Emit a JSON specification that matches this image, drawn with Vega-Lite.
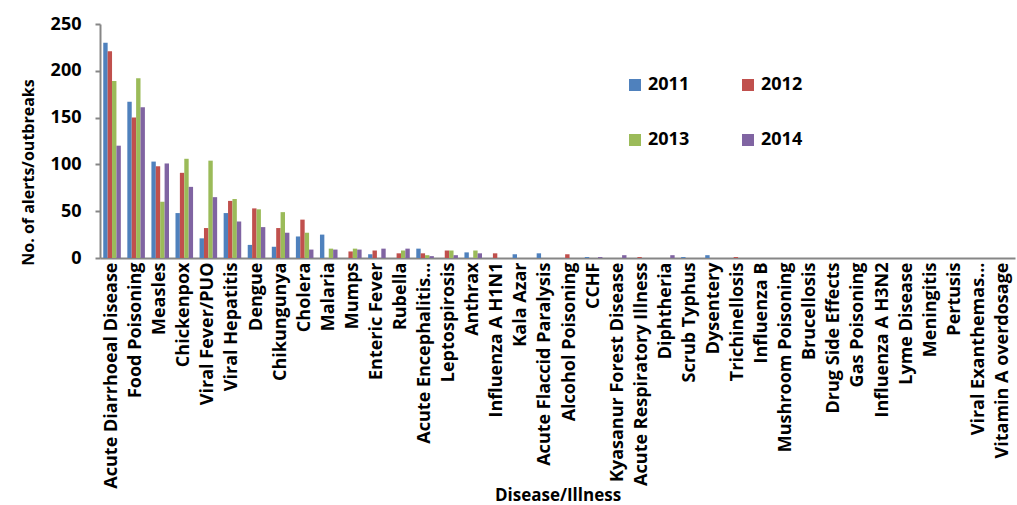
{
  "$schema": "https://vega.github.io/schema/vega-lite/v6.json",
  "width": 915,
  "height": 234,
  "autosize": {"type": "none"},
  "padding": {"left": 100, "top": 24, "right": 2, "bottom": 247},
  "background": "white",
  "config": {
    "view": {"stroke": null},
    "font": "Open Sans"
  },
  "data": {
    "values": [
      {"disease": "Acute Diarrhoeal Disease", "year": "2011", "value": 230},
      {"disease": "Acute Diarrhoeal Disease", "year": "2012", "value": 221},
      {"disease": "Acute Diarrhoeal Disease", "year": "2013", "value": 189},
      {"disease": "Acute Diarrhoeal Disease", "year": "2014", "value": 120},
      {"disease": "Food Poisoning", "year": "2011", "value": 167},
      {"disease": "Food Poisoning", "year": "2012", "value": 150},
      {"disease": "Food Poisoning", "year": "2013", "value": 192},
      {"disease": "Food Poisoning", "year": "2014", "value": 161},
      {"disease": "Measles", "year": "2011", "value": 103},
      {"disease": "Measles", "year": "2012", "value": 98},
      {"disease": "Measles", "year": "2013", "value": 60},
      {"disease": "Measles", "year": "2014", "value": 101},
      {"disease": "Chickenpox", "year": "2011", "value": 48},
      {"disease": "Chickenpox", "year": "2012", "value": 91},
      {"disease": "Chickenpox", "year": "2013", "value": 106},
      {"disease": "Chickenpox", "year": "2014", "value": 76},
      {"disease": "Viral Fever/PUO", "year": "2011", "value": 21},
      {"disease": "Viral Fever/PUO", "year": "2012", "value": 32},
      {"disease": "Viral Fever/PUO", "year": "2013", "value": 104},
      {"disease": "Viral Fever/PUO", "year": "2014", "value": 65},
      {"disease": "Viral Hepatitis", "year": "2011", "value": 48},
      {"disease": "Viral Hepatitis", "year": "2012", "value": 61},
      {"disease": "Viral Hepatitis", "year": "2013", "value": 63},
      {"disease": "Viral Hepatitis", "year": "2014", "value": 39},
      {"disease": "Dengue", "year": "2011", "value": 14},
      {"disease": "Dengue", "year": "2012", "value": 53},
      {"disease": "Dengue", "year": "2013", "value": 52},
      {"disease": "Dengue", "year": "2014", "value": 33},
      {"disease": "Chikungunya", "year": "2011", "value": 12},
      {"disease": "Chikungunya", "year": "2012", "value": 32},
      {"disease": "Chikungunya", "year": "2013", "value": 49},
      {"disease": "Chikungunya", "year": "2014", "value": 27},
      {"disease": "Cholera", "year": "2011", "value": 23},
      {"disease": "Cholera", "year": "2012", "value": 41},
      {"disease": "Cholera", "year": "2013", "value": 27},
      {"disease": "Cholera", "year": "2014", "value": 9},
      {"disease": "Malaria", "year": "2011", "value": 25},
      {"disease": "Malaria", "year": "2012", "value": 0},
      {"disease": "Malaria", "year": "2013", "value": 10},
      {"disease": "Malaria", "year": "2014", "value": 9},
      {"disease": "Mumps", "year": "2011", "value": 0},
      {"disease": "Mumps", "year": "2012", "value": 7},
      {"disease": "Mumps", "year": "2013", "value": 10},
      {"disease": "Mumps", "year": "2014", "value": 9},
      {"disease": "Enteric Fever", "year": "2011", "value": 4},
      {"disease": "Enteric Fever", "year": "2012", "value": 8},
      {"disease": "Enteric Fever", "year": "2013", "value": 0},
      {"disease": "Enteric Fever", "year": "2014", "value": 10},
      {"disease": "Rubella", "year": "2011", "value": 0},
      {"disease": "Rubella", "year": "2012", "value": 5},
      {"disease": "Rubella", "year": "2013", "value": 8},
      {"disease": "Rubella", "year": "2014", "value": 10},
      {"disease": "Acute Encephalitis...", "year": "2011", "value": 10},
      {"disease": "Acute Encephalitis...", "year": "2012", "value": 5},
      {"disease": "Acute Encephalitis...", "year": "2013", "value": 3},
      {"disease": "Acute Encephalitis...", "year": "2014", "value": 2},
      {"disease": "Leptospirosis", "year": "2011", "value": 0},
      {"disease": "Leptospirosis", "year": "2012", "value": 8},
      {"disease": "Leptospirosis", "year": "2013", "value": 8},
      {"disease": "Leptospirosis", "year": "2014", "value": 3},
      {"disease": "Anthrax", "year": "2011", "value": 6},
      {"disease": "Anthrax", "year": "2012", "value": 0},
      {"disease": "Anthrax", "year": "2013", "value": 8},
      {"disease": "Anthrax", "year": "2014", "value": 5},
      {"disease": "Influenza A H1N1", "year": "2012", "value": 5},
      {"disease": "Kala Azar", "year": "2011", "value": 4},
      {"disease": "Acute Flaccid Paralysis", "year": "2011", "value": 5},
      {"disease": "Alcohol Poisoning", "year": "2012", "value": 4},
      {"disease": "CCHF", "year": "2011", "value": 1},
      {"disease": "CCHF", "year": "2014", "value": 1},
      {"disease": "Kyasanur Forest Disease", "year": "2014", "value": 3},
      {"disease": "Acute Respiratory Illness", "year": "2012", "value": 1},
      {"disease": "Diphtheria", "year": "2014", "value": 3},
      {"disease": "Scrub Typhus", "year": "2011", "value": 1},
      {"disease": "Dysentery", "year": "2011", "value": 3},
      {"disease": "Trichinellosis", "year": "2012", "value": 1}
    ]
  },
  "mark": {"type": "bar"},
  "encoding": {
    "x": {
      "field": "disease",
      "type": "nominal",
      "sort": null,
      "scale": {
        "domain": ["Acute Diarrhoeal Disease", "Food Poisoning", "Measles", "Chickenpox", "Viral Fever/PUO", "Viral Hepatitis", "Dengue", "Chikungunya", "Cholera", "Malaria", "Mumps", "Enteric Fever", "Rubella", "Acute Encephalitis...", "Leptospirosis", "Anthrax", "Influenza A H1N1", "Kala Azar", "Acute Flaccid Paralysis", "Alcohol Poisoning", "CCHF", "Kyasanur Forest Disease", "Acute Respiratory Illness", "Diphtheria", "Scrub Typhus", "Dysentery", "Trichinellosis", "Influenza B", "Mushroom Poisoning", "Brucellosis", "Drug Side Effects", "Gas Poisoning", "Influenza A H3N2", "Lyme Disease", "Meningitis", "Pertusis", "Viral Exanthemas...", "Vitamin A overdosage"],
        "paddingInner": 0.27,
        "paddingOuter": 0.135
      },
      "axis": {
        "title": "Disease/Illness",
        "titleFont": "Open Sans",
        "titleFontSize": 17,
        "titleFontWeight": "bold",
        "titleColor": "black",
        "titleY": 229,
        "titleBaseline": "top",
        "labelAngle": -90,
        "labelAlign": "right",
        "labelBaseline": "middle",
        "labelPadding": 4,
        "labelFont": "Open Sans",
        "labelFontSize": 18,
        "labelFontWeight": "bold",
        "labelColor": "black",
        "labelLimit": 400,
        "labelOverlap": false,
        "ticks": false,
        "domainColor": "#868686",
        "domainWidth": 2
      }
    },
    "xOffset": {
      "field": "year",
      "type": "nominal",
      "scale": {"domain": ["2011", "2012", "2013", "2014"], "paddingInner": 0, "paddingOuter": 0}
    },
    "y": {
      "field": "value",
      "type": "quantitative",
      "scale": {"domain": [0, 250], "nice": false},
      "axis": {
        "title": "No. of alerts/outbreaks",
        "titleFont": "Open Sans",
        "titleFontSize": 16,
        "titleFontWeight": "bold",
        "titleColor": "black",
        "titleY": 148,
        "titleX": -64,
        "titleAlign": "center",
        "values": [0, 50, 100, 150, 200, 250],
        "labelFont": "Open Sans",
        "labelFontSize": 18,
        "labelFontWeight": "bold",
        "labelColor": "black",
        "labelPadding": 14,
        "grid": false,
        "tickSize": 5,
        "tickColor": "#868686",
        "tickWidth": 2,
        "domainColor": "#868686",
        "domainWidth": 2
      }
    },
    "color": {
      "field": "year",
      "type": "nominal",
      "scale": {"domain": ["2011", "2012", "2013", "2014"], "range": ["#4F81BD", "#C0504D", "#9BBB59", "#8064A2"]},
      "legend": {
        "title": null,
        "orient": "none",
        "direction": "horizontal",
        "legendX": 526,
        "legendY": 52,
        "columns": 2,
        "columnPadding": 49,
        "rowPadding": 37,
        "symbolType": "square",
        "symbolSize": 144,
        "symbolStrokeWidth": 0,
        "symbolOpacity": 1,
        "labelFont": "Open Sans",
        "labelFontSize": 18,
        "labelFontWeight": "bold",
        "labelColor": "black",
        "labelOffset": 4
      }
    }
  }
}
